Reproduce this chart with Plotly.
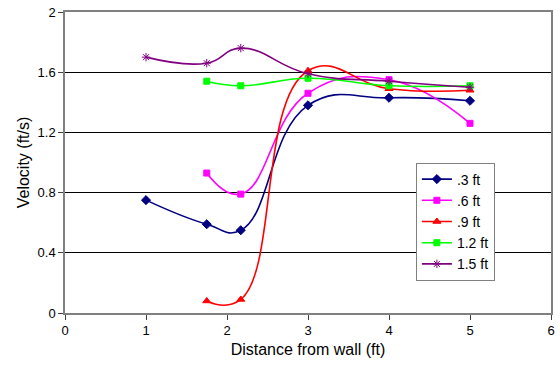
import plotly.graph_objects as go

x_all = [1, 1.75, 2.17, 3, 4, 5]
x_mid = [1.75, 2.17, 3, 4, 5]

v_03 = [0.75, 0.59, 0.55, 1.38, 1.43, 1.41]
v_06 = [0.93, 0.79, 1.46, 1.55, 1.26]
v_09 = [0.08, 0.09, 1.61, 1.49, 1.48]
v_12 = [1.54, 1.51, 1.56, 1.51, 1.51]
v_15 = [1.70, 1.66, 1.76, 1.59, 1.54, 1.50]

series = [
    (".3 ft", x_all, v_03, "#000080", "diamond", 7),
    (".6 ft", x_mid, v_06, "#FF00FF", "square", 6),
    (".9 ft", x_mid, v_09, "#FF0000", "triangle-up", 7),
    ("1.2 ft", x_mid, v_12, "#00FF00", "square", 6),
    ("1.5 ft", x_all, v_15, "#800080", "asterisk-open", 7),
]

fig = go.Figure()
for i, (name, xs, ys, col, sym, sz) in enumerate(series):
    fig.add_trace(go.Scatter(
        x=xs, y=ys, name=name, mode="lines+markers",
        line=dict(color=col, width=1.6, shape="spline", smoothing=1.3),
        marker=dict(color=col, symbol=sym, size=sz, line=dict(color=col, width=1)),
        legendgroup=f"g{i}",
    ))

font = dict(family="Liberation Sans, Arial, sans-serif", size=13, color="#000000")
fig.update_layout(
    width=560, height=374,
    margin=dict(l=65, r=5, t=11, b=61),
    paper_bgcolor="white", plot_bgcolor="white",
    font=font,
    showlegend=True,
    legend=dict(
        x=0.722, y=0.5, xanchor="left", yanchor="top",
        bordercolor="#808080", borderwidth=1, bgcolor="white",
        font=dict(family="Liberation Sans, Arial, sans-serif", size=14),
        tracegroupgap=0, itemwidth=30,
    ),
    xaxis=dict(
        range=[0, 6], dtick=1, showgrid=False, zeroline=False,
        showline=True, linecolor="#808080", linewidth=1.5, mirror=True,
        ticks="outside", ticklen=5, tickcolor="#404040",
        title=dict(text="Distance from wall (ft)", standoff=6),
    ),
    yaxis=dict(
        range=[0, 2], dtick=0.4, tickformat="", showgrid=True,
        gridcolor="#000000", gridwidth=1, zeroline=False,
        showline=True, linecolor="#808080", linewidth=1.5, mirror=True,
        ticks="outside", ticklen=5, tickcolor="#404040",
        title=dict(text="Velocity (ft/s)", standoff=4),
    ),
)

fig.write_html("out.html")
